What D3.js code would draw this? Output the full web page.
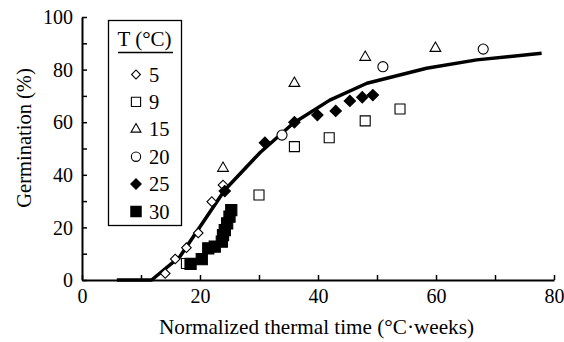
<!DOCTYPE html>
<html><head><meta charset="utf-8">
<script src="https://cdn.jsdelivr.net/npm/d3@7"></script>
<style>body{margin:0;background:#fff}svg{display:block}</style>
</head><body><svg id="c" width="564" height="342" font-family="Liberation Serif"></svg>
<script>
const xTicks = [0,20,40,60,80];
const yTicks = [0,20,40,60,80,100];
const seriesNames = ["5","9","15","20","25","30"];
const t5  = [[14.1,2.5],[15.8,8.0],[17.7,12.3],[19.7,17.9],[22.0,29.8],[23.9,36.1]];
const t9  = [[17.7,6.3],[30.0,32.3],[36.0,50.7],[41.9,54.1],[48.0,60.5],[53.9,65.0]];
const t15 = [[23.9,42.5],[36.0,74.8],[48.0,84.7],[59.9,88.1]];
const t20 = [[33.9,55.1],[51.0,81.1],[68.0,87.8]];
const t25 = [[24.2,33.8],[31.0,52.2],[36.0,60.0],[39.9,62.7],[43.0,64.3],[45.4,68.1],[47.5,69.5],[49.3,70.3]];
const t30 = [[18.4,6.1],[20.3,7.9],[21.4,12.0],[22.5,12.7],[23.7,14.6],[23.9,17.1],[24.2,19.0],[24.6,21.5],[25.0,24.1],[25.3,26.6]];
const curveX = [5.9,11.8,16.6,24.2,30.2,35.8,42.0,48.3,58.4,66.9,77.9];
const curveY = [0,0,8.9,34.2,48.5,59.6,68.4,74.8,80.5,83.7,86.2];

const FONT = "Liberation Serif";
const svg = d3.select("#c");
const x = d3.scaleLinear().domain([0,80]).range([82,554]);
const y = d3.scaleLinear().domain([0,100]).range([280,17]);

// axes
const xAxis = d3.axisBottom(x).tickValues(d3.range(0,81,10)).tickSize(-5).tickSizeOuter(0)
  .tickFormat(d => xTicks.includes(d) ? d : "").tickPadding(6);
const gx = svg.append("g").attr("transform","translate(0,280)").call(xAxis);
const yAxis = d3.axisLeft(y).tickValues(d3.range(0,101,10)).tickSize(-5).tickSizeOuter(0)
  .tickFormat(d => yTicks.includes(d) ? d : "").tickPadding(9);
const gy = svg.append("g").attr("transform","translate(82,0)").call(yAxis);
[gx,gy].forEach(g=>{
  g.attr("font-family",FONT).attr("font-size",20);
  g.select(".domain").attr("stroke","#000").attr("stroke-width",2);
  g.selectAll(".tick line").attr("stroke","#000").attr("stroke-width",1.5);
  g.selectAll("text").attr("font-family",FONT).attr("font-size",20).attr("fill","#000");
});
gx.selectAll(".tick text").attr("dy","0.85em");
gy.selectAll(".tick text").attr("dy","0.33em");

svg.append("text").attr("x",316.5).attr("y",334).attr("text-anchor","middle")
  .attr("font-family",FONT).attr("font-size",21.2).attr("fill","#000").text("Normalized thermal time (°C·weeks)");
svg.append("text").attr("transform","translate(31,138) rotate(-90)").attr("text-anchor","middle")
  .attr("font-family",FONT).attr("font-size",20.5).attr("fill","#000").text("Germination (%)");

// curve
const curve = curveX.map((d,i)=>[d,curveY[i]]);
svg.append("path").datum(curve).attr("fill","none").attr("stroke","#000").attr("stroke-width",3.5)
  .attr("stroke-linejoin","round").attr("d", d3.line().x(d=>x(d[0])).y(d=>y(d[1])));

// markers
const sym = {
  "5":  {type:d3.symbolSquare, size:46, fill:"#fff", rot:45},
  "9":  {type:d3.symbolSquare, size:100, fill:"#fff", rot:0},
  "15": {type:d3.symbolTriangle, size:50, fill:"#fff", rot:0},
  "20": {type:d3.symbolCircle, size:80, fill:"#fff", rot:0},
  "25": {type:d3.symbolSquare, size:64, fill:"#000", rot:45},
  "30": {type:d3.symbolSquare, size:125, fill:"#000", rot:0}
};
const data = {"5":t5,"9":t9,"15":t15,"20":t20,"25":t25,"30":t30};
function drawSym(g, name, px, py, scale){
  const s = sym[name];
  g.append("path").attr("d", d3.symbol().type(s.type).size(s.size*(scale||1))())
    .attr("transform",`translate(${px},${py}) rotate(${s.rot})`)
    .attr("fill", s.fill).attr("stroke","#000").attr("stroke-width",1.1);
}
const order = ["9","15","20","5","25","30"];
order.forEach(n=>{
  const g = svg.append("g");
  data[n].forEach(d=>drawSym(g,n,x(d[0]),y(d[1])));
});

// legend
const lg = svg.append("g");
lg.append("rect").attr("x",108.5).attr("y",20.5).attr("width",73).attr("height",205).attr("fill","#fff").attr("stroke","#000").attr("stroke-width",1.3);
lg.append("text").attr("x",144.5).attr("y",46).attr("text-anchor","middle").attr("font-family",FONT).attr("font-size",21).attr("fill","#000").text("T (°C)");
lg.append("line").attr("x1",118).attr("x2",173).attr("y1",52.5).attr("y2",52.5).attr("stroke","#000").attr("stroke-width",1.5);
seriesNames.forEach((n,i)=>{
  const cy = 74.5 + i*27.4;
  drawSym(lg,n,136,cy,0.85);
  lg.append("text").attr("x",149).attr("y",cy+7).attr("font-family",FONT).attr("font-size",20.5).attr("fill","#000").text(n);
});
</script></body></html>
